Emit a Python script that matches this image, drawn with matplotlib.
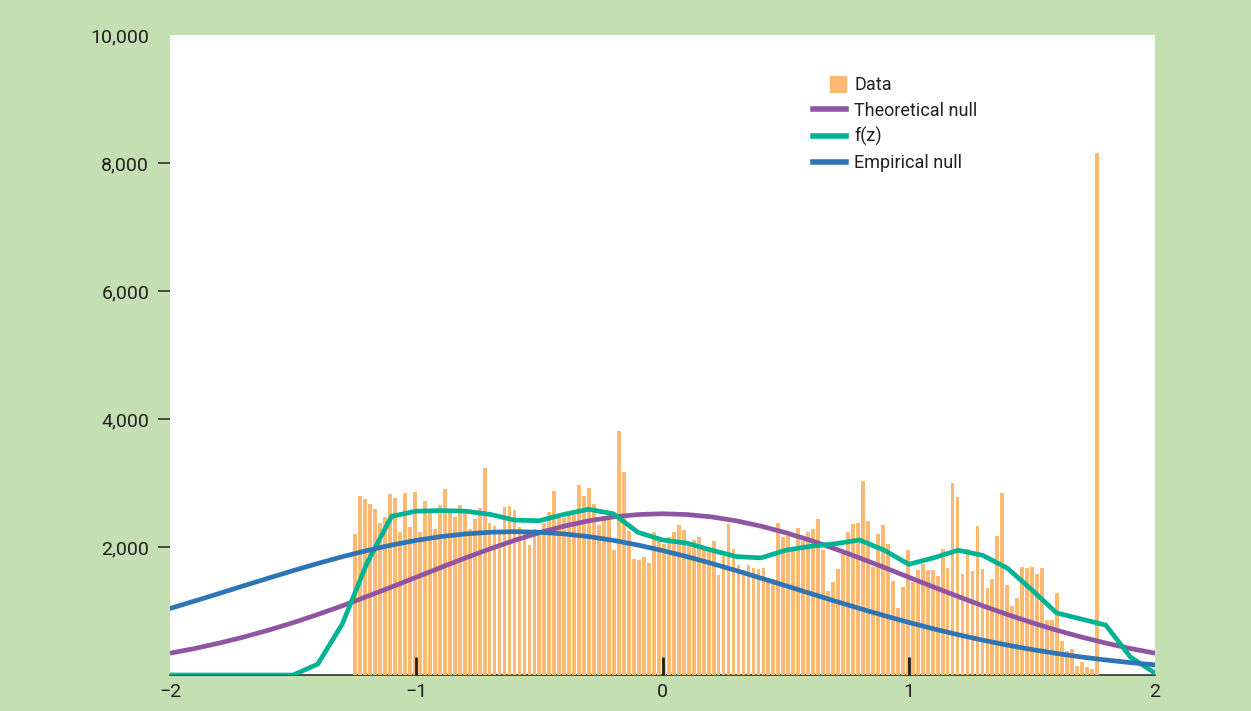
import numpy as np
import matplotlib
matplotlib.use("Agg")
import matplotlib.pyplot as plt
import matplotlib.patches as mpatches
from matplotlib.legend_handler import HandlerPatch
from matplotlib.lines import Line2D

# histogram counts, 150 bins from about -1.25 to 1.76
counts = [
    2203, 2797, 2750, 2672, 2594, 2375, 2469, 2828, 2766, 2234,
    2844, 2312, 2859, 2234, 2719, 2550, 2281, 2656, 2906, 2540,
    2469, 2656, 2550, 2281, 2437, 2609, 3234, 2375, 2328, 2250,
    2625, 2641, 2578, 2312, 2230, 2031, 2281, 2250, 2375, 2547,
    2875, 2450, 2450, 2500, 2500, 2969, 2797, 2922, 2672, 2344,
    2422, 2422, 1953, 3812, 3172, 2250, 1812, 1797, 1844, 1750,
    2234, 2100, 2050, 2156, 2234, 2344, 2266, 2050, 2109, 2156,
    1980, 1950, 2094, 1562, 1859, 2359, 1969, 1719, 1641, 1719,
    1672, 1656, 1672, 1516, 1500, 2375, 2150, 2172, 2000, 2297,
    2100, 2234, 2281, 2437, 1953, 1312, 1453, 1656, 1891, 2234,
    2359, 2375, 3031, 2406, 1687, 2203, 2344, 2047, 1469, 1047,
    1375, 1953, 1460, 1641, 1734, 1641, 1641, 1547, 1969, 1672,
    3000, 2781, 1578, 1969, 1625, 2328, 1656, 1359, 1500, 2172,
    2844, 1406, 1078, 1203, 1687, 1672, 1680, 1578, 1672, 859,
    859, 1281, 531, 380, 400, 141, 210, 125, 94, 8150,
]
bin_first = -1.248
bin_last = 1.764

# curves sampled every 0.1 from -2 to 2
z_grid = np.round(np.arange(-2.0, 2.001, 0.1), 1)
theoretical_null = [
    341, 414, 499, 594, 701, 818, 946, 1082, 1227, 1376,
    1528, 1681, 1830, 1972, 2105, 2224, 2326, 2409, 2470, 2507,
    2520,
    2507, 2470, 2409, 2326, 2224, 2105, 1972, 1830, 1681, 1528,
    1376, 1227, 1082, 946, 818, 701, 594, 499, 414, 341,
]
empirical_null = [
    1040, 1156, 1275, 1395, 1514, 1631, 1743, 1849, 1945, 2031,
    2104, 2163, 2205, 2231, 2240, 2231, 2205, 2163, 2104, 2031,
    1945, 1849, 1743, 1631, 1514, 1395, 1275, 1156, 1040, 928,
    822, 722, 630, 545, 468, 398, 337, 282, 235, 194, 159,
]

# f(z) polyline
fz_x = [-2.0, -1.5, -1.4, -1.3, -1.2, -1.1, -1.0, -0.9, -0.8, -0.7, -0.6, -0.5,
        -0.4, -0.3, -0.2, -0.1, 0.0, 0.1, 0.2, 0.3, 0.4, 0.5, 0.6, 0.7, 0.8,
        0.9, 1.0, 1.1, 1.2, 1.3, 1.4, 1.5, 1.6, 1.8, 1.9, 2.0]
fz_y = [0, 0, 170, 800, 1750, 2480, 2560, 2570, 2560, 2510, 2420, 2410,
        2510, 2590, 2520, 2230, 2110, 2060, 1950, 1850, 1830, 1950, 2010, 2050, 2110,
        1950, 1730, 1830, 1950, 1870, 1670, 1330, 970, 780, 280, 30]

BG = "#c4e0b2"
BAR = "#fbb972"
PURPLE = "#8e55a3"
TEAL = "#00b394"
BLUE = "#2e75b6"
TXT = "#231f20"

plt.rcParams["font.family"] = ["Roboto", "DejaVu Sans"]

fig = plt.figure(figsize=(12.51, 7.11), dpi=100, facecolor=BG)
ax = fig.add_axes([0.1359, 0.0506, 0.7874, 0.9002])
ax.set_facecolor("white")

centers = np.linspace(bin_first, bin_last, len(counts))
step = centers[1] - centers[0]
ax.bar(centers, counts, width=step * 0.76, color=BAR, linewidth=0, zorder=3,
       label="Data")

ax.plot(z_grid, theoretical_null, color=PURPLE, lw=3.4, zorder=4,
        solid_capstyle="butt", label="Theoretical null")
ax.plot(fz_x, fz_y, color=TEAL, lw=3.4, zorder=5, solid_joinstyle="round",
        label="f(z)")
ax.plot(z_grid, empirical_null, color=BLUE, lw=3.4, zorder=6, label="Empirical null")

ax.set_xlim(-2, 2)
ax.set_ylim(0, 10000)

for s in ["left", "top", "right"]:
    ax.spines[s].set_visible(False)
ax.spines["bottom"].set_color(TXT)
ax.spines["bottom"].set_linewidth(1.1)
ax.spines["bottom"].set_zorder(2)

yt = [2000, 4000, 6000, 8000, 10000]
ax.set_yticks(yt)
ax.set_yticklabels([f"{v:,}" for v in yt])
ax.tick_params(axis="y", direction="out", length=9, width=1.1, pad=6,
               colors=TXT, labelsize=14)
ax.yaxis.get_major_ticks()[-1].tick1line.set_visible(False)

xt = [-2, -1, 0, 1, 2]
ax.set_xticks(xt)
ax.set_xticklabels(["\u22122", "\u22121", "0", "1", "2"])
ax.tick_params(axis="x", direction="in", length=13, width=2.0, pad=6,
               colors=TXT, labelsize=14)
ax.xaxis.get_major_ticks()[0].tick1line.set_visible(False)
ax.xaxis.get_major_ticks()[-1].tick1line.set_visible(False)
ax.xaxis.set_zorder(3.5)


def square_patch(legend, orig_handle, xdescent, ydescent, width, height, fontsize):
    s = height * 1.25
    return mpatches.Rectangle((-xdescent + width - s, -ydescent + (height - s) / 2), s, s)


handles = [
    mpatches.Patch(color=BAR, label="Data"),
    Line2D([], [], color=PURPLE, lw=4, label="Theoretical null"),
    Line2D([], [], color=TEAL, lw=4, label="f(z)"),
    Line2D([], [], color=BLUE, lw=4, label="Empirical null"),
]
leg = ax.legend(handles=handles, loc="upper left", bbox_to_anchor=(0.6524, 0.936),
                frameon=False, fontsize=13, handlelength=1.85, handletextpad=0.45,
                labelspacing=0.42, borderpad=0, borderaxespad=0,
                handler_map={mpatches.Patch: HandlerPatch(patch_func=square_patch)})
for t in leg.get_texts():
    t.set_color(TXT)

fig.savefig("out.png", dpi=100, facecolor=fig.get_facecolor())
